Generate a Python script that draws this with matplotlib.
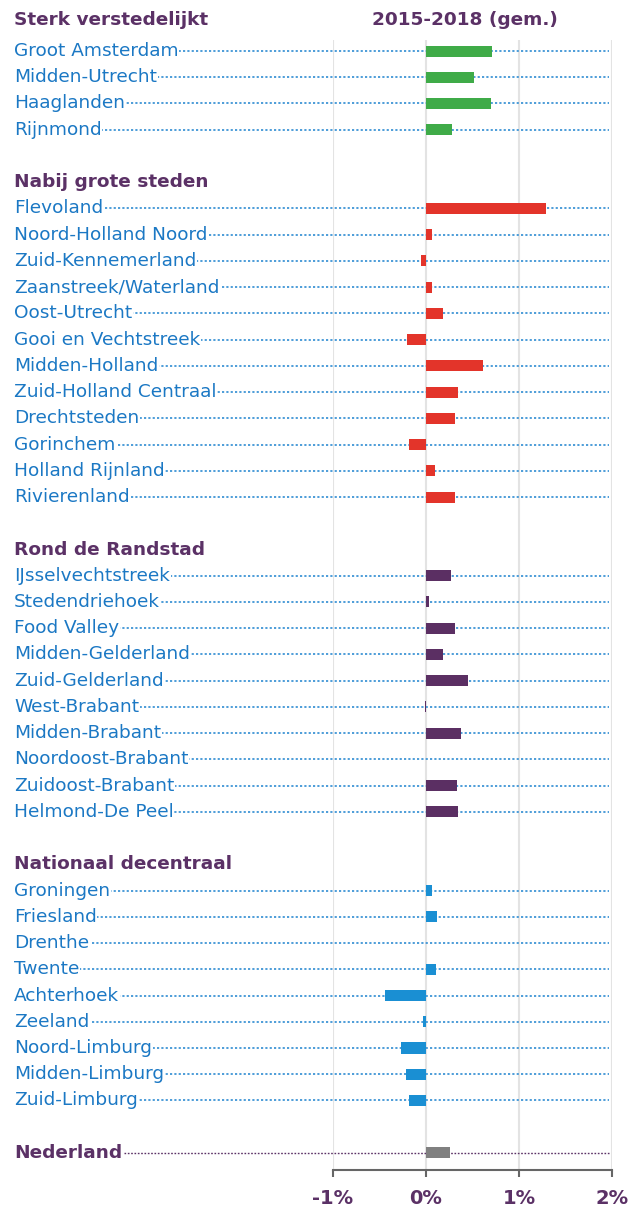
import numpy as np
import matplotlib.pyplot as plt

# groups, region labels and values (% change, 2015-2018 average)
group_titles = ["Sterk verstedelijkt", "Nabij grote steden", "Rond de Randstad", "Nationaal decentraal"]

sterk_labels = ["Groot Amsterdam", "Midden-Utrecht", "Haaglanden", "Rijnmond"]
sterk_values = [0.71, 0.52, 0.70, 0.28]

nabij_labels = ["Flevoland", "Noord-Holland Noord", "Zuid-Kennemerland", "Zaanstreek/Waterland",
                "Oost-Utrecht", "Gooi en Vechtstreek", "Midden-Holland", "Zuid-Holland Centraal",
                "Drechtsteden", "Gorinchem", "Holland Rijnland", "Rivierenland"]
nabij_values = [1.29, 0.06, -0.05, 0.06, 0.18, -0.20, 0.61, 0.34, 0.31, -0.18, 0.10, 0.31]

rond_labels = ["IJsselvechtstreek", "Stedendriehoek", "Food Valley", "Midden-Gelderland",
               "Zuid-Gelderland", "West-Brabant", "Midden-Brabant", "Noordoost-Brabant",
               "Zuidoost-Brabant", "Helmond-De Peel"]
rond_values = [0.27, 0.03, 0.31, 0.18, 0.45, -0.01, 0.375, 0.0, 0.33, 0.34]

decentraal_labels = ["Groningen", "Friesland", "Drenthe", "Twente", "Achterhoek", "Zeeland",
                     "Noord-Limburg", "Midden-Limburg", "Zuid-Limburg"]
decentraal_values = [0.06, 0.12, 0.0, 0.11, -0.44, -0.03, -0.27, -0.21, -0.18]

nl_label = "Nederland"
nl_value = 0.26

xticks = [-1, 0, 1, 2]
xticklabels = ["-1%", "0%", "1%", "2%"]

group_labels = [sterk_labels, nabij_labels, rond_labels, decentraal_labels]
group_values = [sterk_values, nabij_values, rond_values, decentraal_values]
group_colors = ["#3fab48", "#e3342a", "#5b2f63", "#1a8fd3"]

purple = "#5b3166"
label_blue = "#1b78c4"
dot_blue = "#3f95d6"

fig = plt.figure(figsize=(6.31, 12.07), dpi=100)
ax = fig.add_axes([333 / 631, 1 - 1170 / 1207, 279 / 631, 1130 / 1207])

x_left = -1 + (14 - 333) / 93  # where labels start, in data units
x_end = 1.97

slot = 0
for i, (title, labels, values, color) in enumerate(zip(group_titles, group_labels, group_values, group_colors)):
    offset = -0.2 if i == 0 else 0.0  # first header sits a bit higher
    ax.text(x_left, slot + offset, title, fontsize=13.3, fontweight="bold", color=purple,
            ha="left", va="center", clip_on=False)
    for lab, val in zip(labels, values):
        slot += 1
        ax.hlines(slot, x_left, x_end, colors=dot_blue, linestyles=(0, (1.2, 1.2)),
                  linewidth=1.3, zorder=1, clip_on=False)
        ax.text(x_left, slot, lab, fontsize=13.3, color=label_blue, ha="left", va="center",
                zorder=3, clip_on=False,
                bbox=dict(facecolor="white", edgecolor="none", pad=0.5))
        ax.barh(slot, val, height=0.42, color=color, zorder=2)
    slot += 2

ax.hlines(slot, x_left, x_end, colors=purple, linestyles=(0, (1.2, 1.2)),
          linewidth=1.0, zorder=1, clip_on=False)
ax.text(x_left, slot, nl_label, fontsize=13.3, fontweight="bold", color=purple, ha="left",
        va="center", zorder=3, clip_on=False,
        bbox=dict(facecolor="white", edgecolor="none", pad=0.5))
ax.barh(slot, nl_value, height=0.42, color="#808080", zorder=2)

ax.text(0.42, -0.2, "2015-2018 (gem.)", fontsize=13.3, fontweight="bold", color=purple,
        ha="center", va="center", clip_on=False)

ax.set_xlim(-1, 2)
ax.set_ylim(slot + 0.65, 0.58)
ax.set_xticks(xticks)
ax.set_xticklabels(xticklabels, fontsize=14, fontweight="bold", color=purple)
ax.set_yticks([])
for x in xticks:
    ax.axvline(x, color="#e3e3e3", linewidth=1.5, zorder=0)
for side in ["top", "left", "right"]:
    ax.spines[side].set_visible(False)
ax.spines["bottom"].set_color("#666666")
ax.spines["bottom"].set_linewidth(1.5)
ax.tick_params(axis="x", length=5, width=1.5, color="#666666", pad=9)

fig.savefig("out.png", dpi=100)
